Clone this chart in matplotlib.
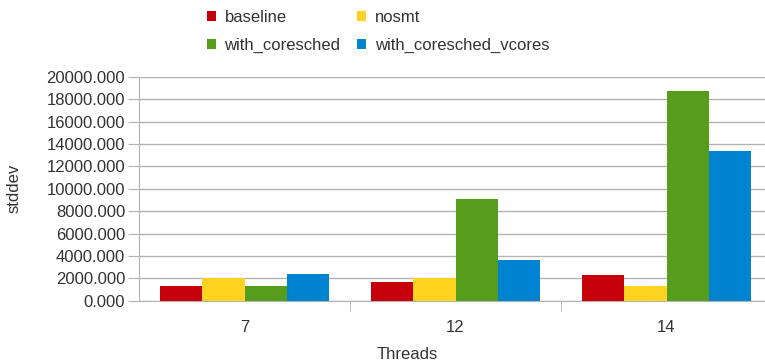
import numpy as np
import matplotlib.pyplot as plt

plt.rcParams['font.family'] = ['Liberation Sans', 'DejaVu Sans']

threads = ['7', '12', '14']
baseline = [1300, 1670, 2270]
nosmt = [2050, 2030, 1310]
with_coresched = [1300, 9050, 18700]
with_coresched_vcores = [2400, 3600, 13370]

series = [
    ('baseline', baseline, '#c5000b'),
    ('nosmt', nosmt, '#ffd320'),
    ('with_coresched', with_coresched, '#579d1c'),
    ('with_coresched_vcores', with_coresched_vcores, '#0084d1'),
]

fig = plt.figure(figsize=(7.65, 3.63), dpi=100)
ax = fig.add_axes([139 / 765, 62.3 / 363, 633 / 765, 224 / 363])

x = np.arange(len(threads))
width = 0.2
bars = []
for i, (name, vals, color) in enumerate(series):
    bars.append(ax.bar(x + (i - 1.5) * width, vals, width, color=color, label=name, zorder=3))

ax.set_xlim(-0.5, 2.5)
ax.set_ylim(0, 20000)
ax.set_yticks(np.arange(0, 20001, 2000))
ax.set_yticklabels(['%.3f' % v for v in np.arange(0, 20001, 2000)])
ax.set_xticks(x)
ax.set_xticklabels(threads)
ax.set_xticks([0.5, 1.5], minor=True)
ax.tick_params(axis='x', which='major', length=0, pad=14, labelsize=12, labelcolor='#333333')
ax.tick_params(axis='x', which='minor', length=7, color='#b3b3b3')
ax.tick_params(axis='y', length=8, color='#b3b3b3', pad=2, labelsize=12, labelcolor='#333333')

ax.grid(axis='y', color='#b3b3b3', linewidth=1, zorder=0)
for side in ['top', 'right']:
    ax.spines[side].set_visible(False)
for side in ['left', 'bottom']:
    ax.spines[side].set_color('#b3b3b3')

ax.set_xlabel('Threads', fontsize=12, color='#333333')
ax.xaxis.set_label_coords(268 / 633, -0.205)
ax.set_ylabel('stddev', fontsize=12, color='#333333')
ax.yaxis.set_label_coords(-0.185, 0.5)

# row-wise legend order: baseline, nosmt / with_coresched, with_coresched_vcores
order = [0, 2, 1, 3]
fig.legend([bars[k] for k in order], [series[k][0] for k in order],
           loc='upper left', bbox_to_anchor=(207 / 765, 1 - 10 / 363), ncol=2, frameon=False,
           fontsize=12, handlelength=0.55, handleheight=0.55, handletextpad=0.5,
           columnspacing=1.0, labelspacing=0.8, borderpad=0, borderaxespad=0,
           labelcolor='#333333')

plt.savefig('out.png', dpi=100)
